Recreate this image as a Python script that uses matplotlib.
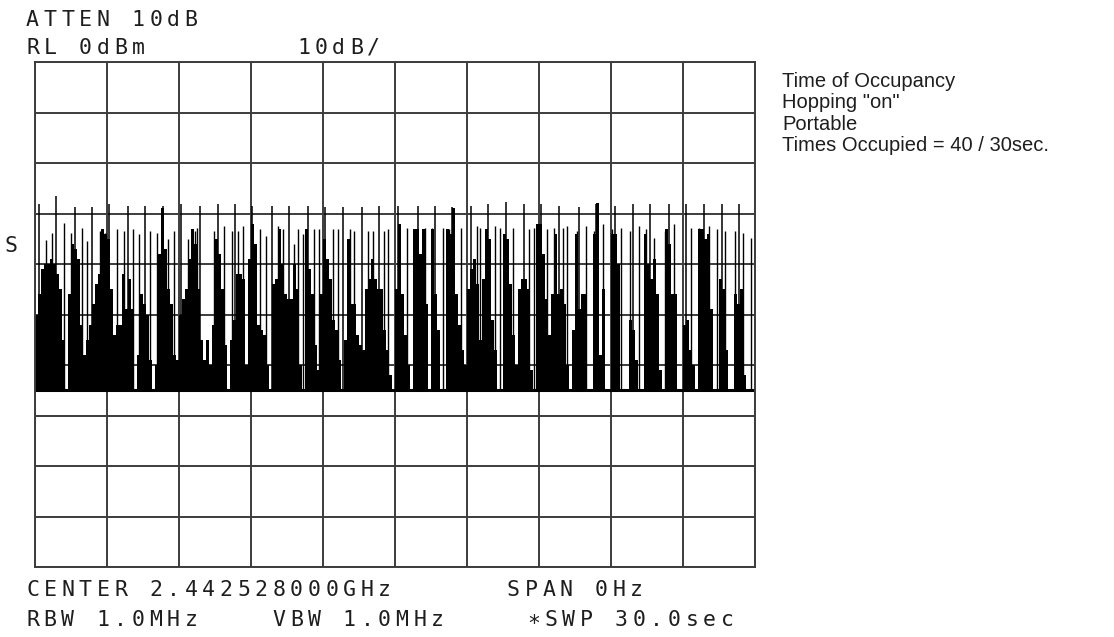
import matplotlib
matplotlib.use('Agg')
import matplotlib.pyplot as plt
import numpy as np

W, H = 1114, 637
SWEEP_S = 30.0
NOISE_FLOOR = -65.0
COLUMN_S = 0.125

TRACE = 'black'
GRID = '#3c3c3c'
TEXT = '#1e1e1e'

# hop bursts (one per dwell on this channel)
hop_t = [0.17, 0.86, 1.68, 2.37, 3.09, 3.89, 4.58, 5.34, 6.10, 6.86,
         7.64, 8.33, 9.03, 9.86, 10.60, 11.36, 12.10, 12.85, 13.63, 14.35,
         15.14, 15.95, 16.66, 17.39, 18.16, 18.89, 19.64, 20.36, 21.07, 21.82,
         22.65, 23.39, 24.18, 24.93, 25.64, 26.43, 27.11, 27.86, 28.64, 29.33]
hop_dbm = [-28.1, -26.5, -28.8, -28.8, -28.1, -28.5, -28.5, -28.5, -28.1, -28.5,
           -28.1, -28.1, -28.5, -28.5, -28.5, -28.5, -28.8, -28.8, -28.8, -28.5,
           -28.5, -28.5, -28.5, -28.8, -28.5, -28.1, -27.8, -28.1, -28.1, -28.5,
           -28.8, -28.1, -28.5, -28.1, -28.1, -28.1, -28.1, -28.1, -28.1, -28.1]

# narrower side pulses between the hops
side_t = [0.47, 0.72, 1.20, 1.52, 1.96, 2.17, 2.72, 2.92, 3.41, 3.72,
          4.10, 4.33, 4.81, 5.09, 5.54, 5.79, 6.37, 6.65, 6.74,
          7.47, 7.89, 8.19, 8.44, 8.68, 9.39, 9.63, 10.11, 10.32, 10.81,
          10.97, 11.15, 11.61, 11.85, 12.40, 12.61, 13.14, 13.31, 13.86, 14.07,
          14.56, 14.69,
          15.48, 15.82, 16.23, 16.54, 16.98, 17.25, 17.73, 18.41, 18.55, 19.16,
          19.36, 19.91, 20.59, 20.80, 21.34, 21.62, 22.02, 22.16,
          22.57, 22.95, 23.29, 23.67, 24.04, 24.42, 24.79, 25.16, 25.47, 25.81,
          26.26, 26.63, 27.32, 27.66, 28.07, 28.41, 28.75, 29.16, 29.50, 29.84]
side_dbm = [-35.3, -33.8, -31.8, -33.8, -32.8, -35.5, -33.5, -33.8, -33.1, -33.5,
            -33.1, -34.1, -33.5, -33.8, -35.1, -33.5, -35.1, -33.5, -32.8,
            -33.5, -32.5, -33.5, -33.5, -32.5, -33.0, -34.5, -32.5, -33.0, -36.0,
            -33.0, -34.0, -33.0, -33.0, -33.0, -33.0, -33.0, -33.5, -33.5, -33.5,
            -33.5, -33.0,
            -32.8, -33.5, -32.8, -32.8, -32.8, -33.1, -32.8, -32.5, -32.8, -32.5,
            -32.8, -32.8, -33.1, -32.8, -33.1, -32.8, -32.8, -32.5,
            -33.5, -32.5, -33.5, -32.1, -33.1, -32.8, -33.5, -32.5, -33.1, -34.8,
            -33.5, -32.1, -32.8, -32.8, -32.5, -33.1, -33.5, -33.5, -33.8, -34.8]

# filled trace level per 0.125 s display column
column_dbm = [
    -50, -46, -41, -40, -40, -39, -40, -42, -45, -55, -65, -46, -36, -37, -39, -52, -58, -55, -52, -48,
    -44, -42, -33, -34, -35, -45, -54, -52, -52, -42, -49, -43, -49, -65, -58, -46, -48, -50, -59, -65,
    -60, -38, -29, -37, -45, -48, -58, -59, -50, -47, -45, -39, -33, -36, -45, -55, -59, -55, -60, -52,
    -35, -38, -45, -56, -65, -55, -51, -42, -42, -43, -60, -39, -32, -36, -52, -53, -54, -60, -65, -44,
    -43, -33, -40, -46, -47, -47, -40, -45, -60, -65, -33, -41, -46, -56, -61, -46, -35, -39, -43, -51,
    -53, -59, -65, -55, -35, -48, -48, -54, -56, -57, -45, -43, -39, -43, -45, -45, -53, -57, -62, -65,
    -45, -32, -46, -54, -60, -65, -33, -33, -38, -33, -48, -65, -33, -46, -53, -65, -65, -33, -34, -29,
    -46, -52, -57, -60, -45, -41, -39, -44, -55, -43, -33, -35, -51, -57, -65, -65, -34, -35, -44, -54,
    -60, -45, -43, -43, -45, -61, -65, -32, -32, -38, -47, -54, -46, -34, -46, -45, -48, -60, -65, -53,
    -34, -49, -46, -46, -65, -65, -34, -28, -58, -45, -65, -65, -34, -34, -40, -65, -65, -65, -51, -53,
    -59, -65, -65, -34, -40, -43, -39, -46, -61, -65, -33, -36, -46, -46, -65, -65, -52, -51, -57, -60,
    -65, -33, -33, -35, -34, -49, -65, -65, -43, -45, -57, -65, -65, -46, -48, -45, -62, -65, -65, -65,
]

header_left = ['ATTEN 10dB', 'RL 0dBm']
header_scale = '10dB/'
footer_left = ['CENTER 2.442528000GHz', 'RBW 1.0MHz    VBW 1.0MHz']
footer_span = 'SPAN 0Hz'
footer_sweep = '\u2217SWP 30.0sec'
notes = ['Time of Occupancy', 'Hopping "on"', 'Portable', 'Times Occupied = 40 / 30sec.']

PITCH = 17.6


def crt_text(fig, x_px, y_px, s, size=15.5):
    # instrument font: fixed character pitch
    for i, ch in enumerate(s):
        if ch == ' ':
            continue
        fig.text((x_px + i * PITCH) / W, 1 - y_px / H, ch, ha='left', va='center',
                 family='DejaVu Sans Mono', fontsize=size, color=TEXT)


fig = plt.figure(figsize=(W / 100, H / 100), dpi=100)
ax = fig.add_axes([35 / W, 1 - 567 / H, 720 / W, 505 / H])

starts = np.arange(len(column_dbm)) * COLUMN_S
heights = np.array(column_dbm) - NOISE_FLOOR
ax.bar(starts, heights, width=COLUMN_S, bottom=NOISE_FLOOR, align='edge',
       color=TRACE, linewidth=0)
ax.vlines(side_t, NOISE_FLOOR, side_dbm, color=TRACE, linewidth=1.0)
ax.vlines(hop_t, NOISE_FLOOR, hop_dbm, color=TRACE, linewidth=1.1)
ax.hlines(NOISE_FLOOR, 0, SWEEP_S, color=TRACE, linewidth=2.2)

ax.set_xlim(0, SWEEP_S)
ax.set_ylim(-100, 0)
ax.set_xticks(np.arange(0, SWEEP_S + 0.1, 3))
ax.set_yticks(np.arange(-100, 1, 10))
ax.tick_params(length=0, labelbottom=False, labelleft=False)
ax.grid(True, color=GRID, linewidth=1.4)
ax.set_axisbelow(True)
for sp in ax.spines.values():
    sp.set_color(GRID)
    sp.set_linewidth(1.4)

crt_text(fig, 26, 19.5, header_left[0])
crt_text(fig, 26, 47.5, header_left[1])
crt_text(fig, 297, 47.5, header_scale)
crt_text(fig, 26, 590, footer_left[0])
crt_text(fig, 26, 620, footer_left[1])
crt_text(fig, 507, 590, footer_span)
crt_text(fig, 527, 620, footer_sweep)
crt_text(fig, 5, 246, 'S')

for i, line in enumerate(notes):
    fig.text(782 / W, 1 - (87 + i * 21.5) / H, line, ha='left', va='baseline',
             family='Liberation Sans', fontsize=14.5, color=TEXT)

fig.savefig('out.png', dpi=100, facecolor='white')
